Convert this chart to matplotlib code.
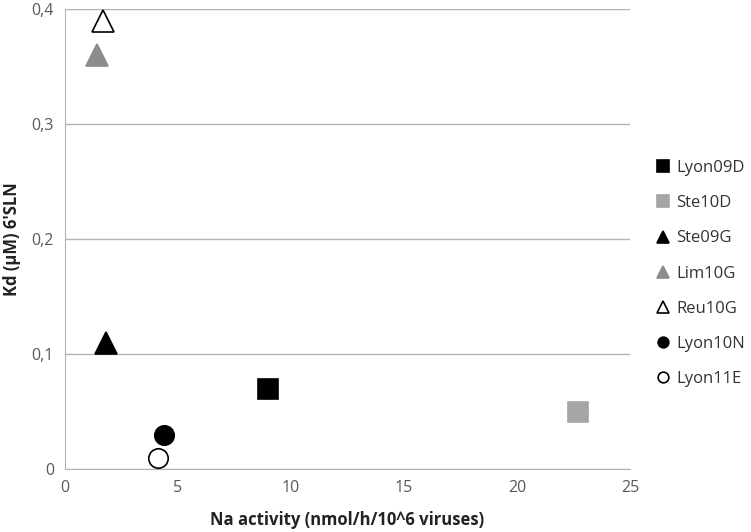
import matplotlib.pyplot as plt
from matplotlib.ticker import FuncFormatter

plt.rcParams['font.family'] = ['Open Sans', 'DejaVu Sans']

names = ["Lyon09D", "Ste10D", "Ste09G", "Lim10G", "Reu10G", "Lyon10N", "Lyon11E"]
na_activity = [9.0, 22.7, 1.8, 1.4, 1.7, 4.4, 4.1]
kd = [0.07, 0.05, 0.11, 0.36, 0.39, 0.03, 0.01]
markers = ["s", "s", "^", "^", "^", "o", "o"]
faces = ["black", "#a6a6a6", "black", "#8c8c8c", "white", "black", "white"]
edges = ["black", "#a6a6a6", "black", "#8c8c8c", "black", "black", "black"]
sizes = [15, 15, 16, 16, 16, 14, 14]

fig = plt.figure(figsize=(7.51, 5.32), dpi=100)
ax = fig.add_axes([65 / 751, 63 / 532, 565 / 751, 460 / 532])

for n, x, y, m, fc, ec, s in zip(names, na_activity, kd, markers, faces, edges, sizes):
    ax.plot([x], [y], linestyle="none", marker=m, markersize=s,
            markerfacecolor=fc, markeredgecolor=ec, markeredgewidth=1.2,
            label=n, clip_on=False, zorder=3)

ax.set_xlim(0, 25)
ax.set_ylim(0, 0.4)
ax.set_xticks([0, 5, 10, 15, 20, 25])
ax.set_yticks([0, 0.1, 0.2, 0.3, 0.4])
comma = FuncFormatter(lambda v, p: ("%g" % round(v, 2)).replace(".", ","))
ax.xaxis.set_major_formatter(comma)
ax.yaxis.set_major_formatter(comma)
ax.tick_params(length=0, labelsize=11.5, colors="#595959", pad=8)
ax.grid(axis="y", color="#b3b3b3", linewidth=1)
ax.set_axisbelow(True)
for s in ["top", "right"]:
    ax.spines[s].set_visible(False)
for s in ["left", "bottom"]:
    ax.spines[s].set_color("#b3b3b3")

ax.set_xlabel("Na activity (nmol/h/10^6 viruses)", fontsize=12, fontweight="bold",
              color="#222222", labelpad=11)
ax.set_ylabel("Kd (µM) 6'SLN", fontsize=12, fontweight="bold", color="#222222")
ax.yaxis.set_label_coords(-0.077, 0.5)

ax.legend(loc="center left", bbox_to_anchor=(1.02, 0.425), frameon=False,
          markerscale=0.55, handlelength=0.8, handletextpad=0.4,
          labelspacing=1.15, fontsize=12, labelcolor="#333333")

fig.savefig("out.png", dpi=100)
